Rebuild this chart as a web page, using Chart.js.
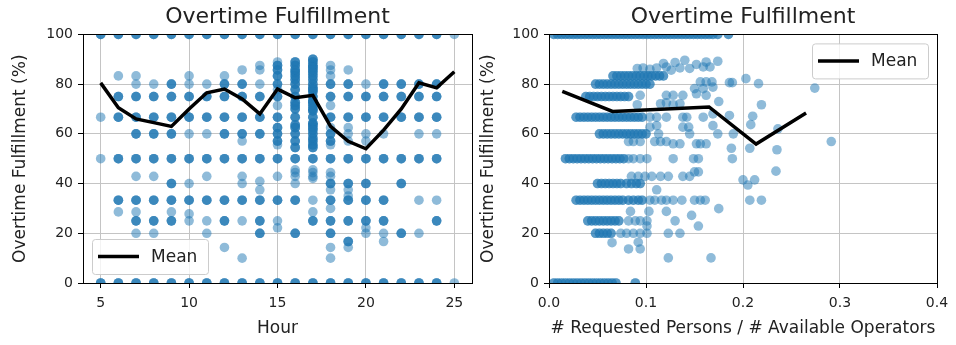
<html>
<head>
<meta charset="utf-8">
<title>Overtime Fulfillment</title>
<script src="https://cdn.jsdelivr.net/npm/chart.js@4.4.1/dist/chart.umd.min.js"></script>
<style>
  body { margin: 0; background: #fff; }
  #wrap { position: relative; width: 956px; height: 345px; }
  canvas { position: absolute; top: 0; }
  #hour_chart { left: 0; }
  #ratio_chart { left: 478px; }
</style>
</head>
<body>
<div id="wrap">
  <canvas id="hour_chart" width="478" height="345"></canvas>
  <canvas id="ratio_chart" width="478" height="345"></canvas>
</div>

<script>
  // ---- values ----
  var hours = [5, 6, 7, 8, 9, 10, 11, 12, 13, 14, 15, 16, 17, 18, 19, 20, 21, 22, 23, 24, 25];

  // fulfillment levels seen many times in that hour (dark dots)
  var hourFrequent = [
    [100, 0],
    [100, 75, 66.7, 50, 33.3, 0],
    [100, 75, 66.7, 60, 50, 33.3, 25, 0],
    [100, 75, 66.7, 60, 50, 33.3, 25, 0],
    [100, 80, 75, 66.7, 60, 50, 40, 33.3, 25, 0],
    [100, 75, 66.7, 50, 33.3, 0],
    [100, 75, 66.7, 50, 33.3, 0],
    [100, 80, 75, 66.7, 60, 50, 33.3, 25, 0],
    [100, 80, 75, 66.7, 60, 50, 33.3, 0],
    [100, 75, 66.7, 60, 50, 33.3, 25, 20, 0],
    [100, 87.5, 85.7, 83.3, 80, 75, 66.7, 62.5, 60, 57.1, 50, 33.3, 0],
    [100, 88.9, 87.5, 85.7, 84.6, 83.3, 81.8, 80, 77.8, 75, 72.7, 71.4, 70, 66.7, 63.6, 62.5, 60, 57.1, 54.5, 50, 33.3, 20, 0],
    [100, 90, 88.9, 87.5, 86.7, 85.7, 84.6, 83.3, 81.8, 80, 78.6, 77.8, 76.9, 75, 73.3, 72.7, 71.4, 70, 69.2, 66.7, 64.3, 63.6, 62.5, 61.5, 60, 58.3, 57.1, 55.6, 54.5, 50, 25, 0],
    [100, 80, 75, 66.7, 60, 57.1, 50, 40, 33.3, 25, 20, 0],
    [100, 80, 75, 66.7, 50, 40, 33.3, 25, 16.7, 0],
    [100, 75, 66.7, 50, 40, 33.3, 25, 0],
    [100, 80, 75, 66.7, 50, 33.3, 25, 0],
    [100, 80, 75, 66.7, 50, 40, 20, 0],
    [100, 80, 75, 66.7, 50, 0],
    [100, 80, 75, 66.7, 50, 25, 0],
    []
  ];
  // levels seen only once or twice (light dots)
  var hourOccasional = [
    [66.7, 50],
    [83.3, 28.6],
    [83.3, 80, 42.9, 28.6, 20],
    [80, 42.9, 20],
    [28.6],
    [83.3, 80, 60, 40, 27.8, 25],
    [80, 60, 42.9, 25, 20],
    [83.3, 14.3],
    [85.7, 57.1, 42.9, 40, 25, 10],
    [87.5, 85.7, 80, 40.9, 37.5],
    [88.9, 77.8, 71.4, 55.6, 42.9, 25, 22.2],
    [45.5, 44.4, 42.9, 40],
    [45.5, 44.4, 42.9, 42.1, 33.3, 28.6],
    [87.5, 85.7, 83.3, 71.4, 62.5, 55.6, 44.4, 42.9, 37.5, 30, 14.3, 10],
    [85.7, 62.5, 60, 57.1, 37.5, 35, 14.3],
    [80, 60, 57.1, 22.2, 20],
    [60, 20, 16.7],
    [],
    [60, 33.3, 20],
    [60, 33.3],
    [100, 0]
  ];
  var hourMean = [80.5, 70.5, 66, 64.5, 63, 70, 76.5, 78, 74, 68, 78, 74.5, 75.5, 63, 57, 54, 61.5, 70, 80.5, 78.5, 85];

  // ratio plot: crowded horizontal bands (level, then the ratios seen at that level)
  var bandLevels = [100, 0, 83.3, 80, 75, 66.7, 60, 50, 40, 33.3, 25, 20];
  var bandRatios = [
    [0.005, 0.009, 0.013, 0.017, 0.021, 0.025, 0.029, 0.033, 0.037, 0.041, 0.045, 0.049, 0.053, 0.057, 0.061, 0.065, 0.069, 0.073, 0.077, 0.081, 0.085, 0.089, 0.093, 0.097, 0.101, 0.105, 0.109, 0.113, 0.117, 0.121, 0.125, 0.129, 0.133, 0.137, 0.141, 0.145, 0.149, 0.153, 0.157, 0.161, 0.165, 0.169, 0.174, 0.185],
    [0.005, 0.009, 0.013, 0.017, 0.021, 0.025, 0.029, 0.033, 0.037, 0.041, 0.045, 0.049, 0.053, 0.057, 0.061, 0.065, 0.069, 0.089],
    [0.066, 0.070, 0.074, 0.078, 0.082, 0.086, 0.090, 0.094, 0.098, 0.102, 0.106, 0.110, 0.114, 0.118],
    [0.048, 0.052, 0.056, 0.060, 0.064, 0.068, 0.072, 0.076, 0.080, 0.084, 0.088, 0.092, 0.096, 0.100, 0.104],
    [0.038, 0.042, 0.046, 0.050, 0.054, 0.058, 0.062, 0.066, 0.070, 0.074, 0.078, 0.082],
    [0.028, 0.032, 0.036, 0.040, 0.044, 0.048, 0.052, 0.056, 0.060, 0.064, 0.068, 0.072, 0.076, 0.080, 0.084, 0.088, 0.092, 0.096],
    [0.052, 0.056, 0.060, 0.064, 0.068, 0.072, 0.076, 0.080, 0.084, 0.088, 0.092, 0.096, 0.100],
    [0.017, 0.021, 0.025, 0.029, 0.033, 0.037, 0.041, 0.045, 0.049, 0.053, 0.057, 0.061, 0.065, 0.069, 0.073, 0.077],
    [0.050, 0.054, 0.058, 0.062, 0.066, 0.070, 0.074, 0.080, 0.085, 0.090, 0.094],
    [0.028, 0.032, 0.036, 0.040, 0.044, 0.048, 0.052, 0.056, 0.060, 0.064, 0.068, 0.072, 0.076, 0.082, 0.087, 0.092, 0.096],
    [0.040, 0.044, 0.048, 0.052, 0.056, 0.060, 0.064, 0.068, 0.072],
    [0.048, 0.052, 0.056, 0.060, 0.064]
  ];
  // ratio plot: the scattered single points [ratio, fulfillment]
  var ratioSingles = [
    [0.118, 88.3], [0.130, 88.7], [0.140, 89.6], [0.152, 87.9], [0.162, 88.9], [0.174, 89.2],
    [0.091, 86.3], [0.097, 86.5], [0.104, 86.0], [0.111, 86.5], [0.121, 86.9], [0.126, 85.6],
    [0.135, 86.5], [0.145, 86.3], [0.159, 86.9], [0.166, 86.9],
    [0.156, 80.9], [0.162, 80.9], [0.168, 80.9], [0.150, 78.2], [0.159, 78.2], [0.169, 78.8],
    [0.186, 80.6], [0.189, 80.6], [0.203, 82.2], [0.216, 80.2], [0.274, 78.4],
    [0.094, 75.5], [0.121, 75.5], [0.128, 75.5], [0.138, 75.5], [0.152, 76.1], [0.162, 75.5],
    [0.091, 71.7], [0.115, 72.1], [0.121, 72.5], [0.128, 71.7], [0.135, 72.1], [0.175, 73.0], [0.219, 71.7],
    [0.104, 66.7], [0.111, 66.7], [0.121, 66.7], [0.138, 66.7], [0.142, 66.7], [0.159, 66.7],
    [0.169, 68.0], [0.186, 67.4], [0.210, 67.1],
    [0.104, 62.7], [0.111, 63.3], [0.138, 62.7], [0.144, 62.7], [0.169, 63.3], [0.208, 63.7],
    [0.113, 60.0], [0.145, 60.0], [0.174, 60.0], [0.190, 60.0], [0.236, 62.0],
    [0.082, 56.9], [0.087, 56.9], [0.094, 56.9], [0.109, 56.9], [0.115, 56.9], [0.121, 56.9],
    [0.128, 56.0], [0.135, 56.0], [0.152, 56.0], [0.156, 56.0], [0.162, 56.0],
    [0.188, 54.2], [0.207, 54.2], [0.235, 53.6], [0.291, 56.9],
    [0.082, 50.0], [0.087, 50.0], [0.094, 50.0], [0.101, 50.0], [0.128, 50.0], [0.149, 50.0], [0.154, 50.0], [0.189, 50.0],
    [0.150, 44.7], [0.154, 44.7], [0.234, 45.0],
    [0.085, 42.9], [0.092, 42.9], [0.099, 42.9], [0.106, 42.9], [0.115, 42.9], [0.123, 42.9], [0.138, 42.9], [0.145, 42.9],
    [0.111, 37.5], [0.200, 41.5], [0.205, 39.4], [0.212, 41.5],
    [0.104, 33.3], [0.109, 33.3], [0.116, 33.3], [0.121, 33.3], [0.128, 33.3], [0.137, 33.3],
    [0.150, 33.3], [0.156, 33.3], [0.161, 33.3], [0.207, 33.3], [0.219, 33.3],
    [0.084, 28.8], [0.103, 28.8], [0.121, 28.8], [0.175, 29.9], [0.147, 27.2],
    [0.082, 25.0], [0.089, 25.0], [0.094, 25.0], [0.101, 25.0], [0.130, 25.0],
    [0.101, 22.9], [0.154, 22.9],
    [0.074, 20.0], [0.080, 20.0], [0.087, 20.0], [0.094, 20.0], [0.101, 20.0], [0.123, 20.0], [0.135, 20.0],
    [0.065, 16.2], [0.092, 16.4], [0.082, 13.7], [0.094, 13.7],
    [0.123, 10.1], [0.167, 10.1]
  ];
  var ratioMean = [[0.0137, 77.1], [0.0655, 69.0], [0.165, 70.8], [0.2135, 55.9], [0.265, 68.4]];

  var hourTicks = [5, 10, 15, 20, 25];
  var ratioTicks = [0, 0.1, 0.2, 0.3, 0.4];
  var pctTicks = [0, 20, 40, 60, 80, 100];

  // ---- build point lists ----
  var hourPoints = [];
  hours.forEach(function (h, i) {
    hourFrequent[i].forEach(function (v) {
      for (var k = 0; k < 3; k++) hourPoints.push({ x: h, y: v });
    });
    hourOccasional[i].forEach(function (v) { hourPoints.push({ x: h, y: v }); });
  });
  var hourMeanPts = hours.map(function (h, i) { return { x: h, y: hourMean[i] }; });

  // band ratios are repeated observations, so each one goes in twice
  var ratioPoints = [];
  bandLevels.forEach(function (lvl, i) {
    bandRatios[i].forEach(function (r) {
      ratioPoints.push({ x: r, y: lvl });
      ratioPoints.push({ x: r, y: lvl });
    });
  });
  ratioSingles.forEach(function (p) { ratioPoints.push({ x: p[0], y: p[1] }); });
  var ratioMeanPts = ratioMean.map(function (p) { return { x: p[0], y: p[1] }; });

  // ---- styling ----
  Chart.defaults.font.family = "'DejaVu Sans', sans-serif";
  var textColor = '#222';
  var gridColor = '#c4c4c4';
  var dotColor = 'rgba(31,119,180,0.5)';

  // box around the plot area, like matplotlib spines
  var frameBox = {
    id: 'frameBox',
    afterDatasetsDraw: function (chart) {
      var a = chart.chartArea, ctx = chart.ctx;
      ctx.save();
      ctx.strokeStyle = '#000';
      ctx.lineWidth = 1;
      ctx.strokeRect(Math.round(a.left) + 0.5, Math.round(a.top) + 0.5,
        Math.round(a.right - a.left), Math.round(a.bottom - a.top));
      ctx.restore();
    }
  };

  // legend drawn inside the plot area
  var meanLegend = {
    id: 'meanLegend',
    afterDraw: function (chart, args, opts) {
      var a = chart.chartArea, ctx = chart.ctx;
      var ds = chart.data.datasets[0];
      var w = 116, h = 35, pad = 9;
      var x = opts.corner === 'upperRight' ? a.right - pad - w : a.left + pad;
      var y = opts.corner === 'upperRight' ? a.top + pad : a.bottom - pad - h;
      ctx.save();
      ctx.beginPath();
      ctx.roundRect(x + 0.5, y + 0.5, w, h, 3);
      ctx.fillStyle = 'rgba(255,255,255,0.8)';
      ctx.fill();
      ctx.strokeStyle = '#cccccc';
      ctx.lineWidth = 1;
      ctx.stroke();
      ctx.beginPath();
      ctx.moveTo(x + 6, y + h / 2);
      ctx.lineTo(x + 47, y + h / 2);
      ctx.strokeStyle = ds.borderColor;
      ctx.lineWidth = ds.borderWidth;
      ctx.stroke();
      ctx.fillStyle = textColor;
      ctx.font = "17px 'DejaVu Sans'";
      ctx.textBaseline = 'middle';
      ctx.fillText(ds.label, x + 59, y + h / 2 + 1);
      ctx.restore();
    }
  };

  function pctAxis(width, titlePad) {
    return {
      min: 0, max: 100,
      afterFit: function (s) { s.width = width; },
      afterBuildTicks: function (s) { s.ticks = pctTicks.map(function (v) { return { value: v }; }); },
      grid: { color: gridColor, tickColor: '#000', tickLength: 5 },
      border: { color: '#000', width: 1 },
      ticks: { color: textColor, font: { size: 14 }, padding: 5 },
      title: { display: true, text: 'Overtime Fulfillment (%)', color: textColor,
        font: { size: 17 }, padding: { top: titlePad, bottom: 0 } }
    };
  }

  function xAxis(min, max, tickList, label, fmt) {
    return {
      type: 'linear', min: min, max: max,
      afterFit: function (s) { s.height = 62; },
      afterBuildTicks: function (s) { s.ticks = tickList.map(function (v) { return { value: v }; }); },
      grid: { color: gridColor, tickColor: '#000', tickLength: 5 },
      border: { color: '#000', width: 1 },
      ticks: { color: textColor, font: { size: 14 }, padding: 7, maxRotation: 0, callback: fmt },
      title: { display: true, text: label, color: textColor, font: { size: 17 }, padding: { top: 0, bottom: 6 } }
    };
  }

  function makeChart(id, meanPts, dots, xScale, yScale, corner, rightPad) {
    return new Chart(document.getElementById(id).getContext('2d'), {
      type: 'scatter',
      data: {
        datasets: [{
          label: 'Mean',
          data: meanPts,
          showLine: true,
          borderColor: '#000',
          borderWidth: 3.5,
          pointRadius: 0,
          fill: false,
          clip: 0,
          order: 0
        }, {
          label: 'points',
          data: dots,
          backgroundColor: dotColor,
          borderWidth: 0,
          pointRadius: 4.8,
          clip: 0,
          order: 1
        }]
      },
      options: {
        responsive: false,
        animation: false,
        layout: { padding: { left: 0, right: rightPad, top: 0, bottom: 0 } },
        scales: { x: xScale, y: yScale },
        plugins: {
          legend: { display: false },
          tooltip: { enabled: false },
          title: { display: true, fullSize: false, text: 'Overtime Fulfillment', color: textColor,
            font: { size: 22, weight: 'normal' }, padding: { top: 4, bottom: 4 } },
          meanLegend: { corner: corner }
        }
      },
      plugins: [frameBox, meanLegend]
    });
  }

  makeChart('hour_chart', hourMeanPts, hourPoints,
    xAxis(4, 26, hourTicks, 'Hour', function (v) { return v; }),
    pctAxis(83, 10), 'lowerLeft', 6);

  makeChart('ratio_chart', ratioMeanPts, ratioPoints,
    xAxis(0, 0.4, ratioTicks, '# Requested Persons / # Available Operators', function (v) { return v.toFixed(1); }),
    pctAxis(71, 0), 'upperRight', 19);
</script>
</body>
</html>
